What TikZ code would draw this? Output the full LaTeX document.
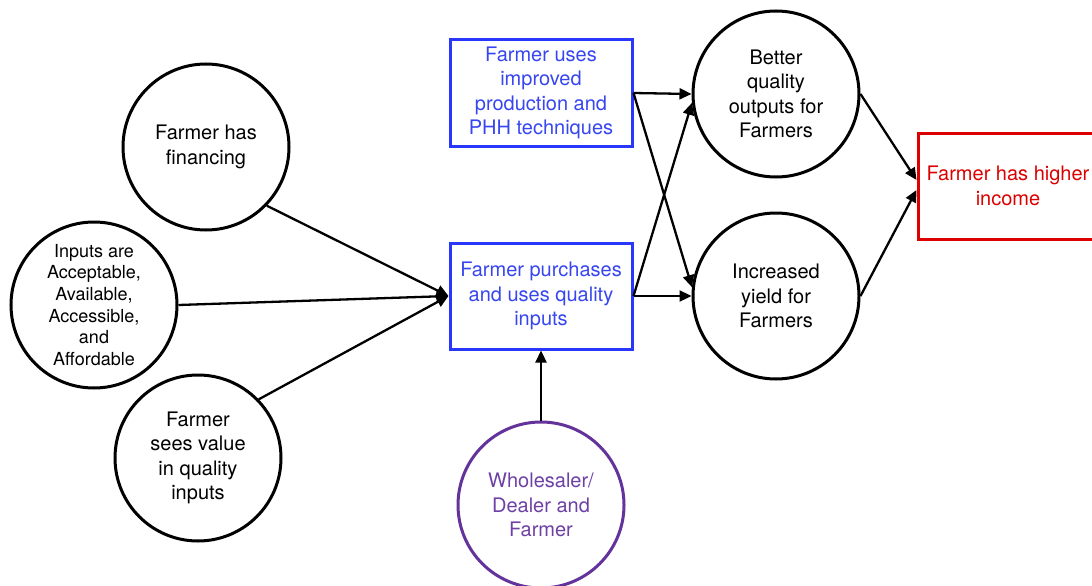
\documentclass[tikz,border=0pt]{standalone}
\usepackage{fontspec}
\setmainfont{TeX Gyre Heros}
\usetikzlibrary{arrows.meta}
\definecolor{boxblue}{RGB}{40,55,250}
\definecolor{txtblue}{RGB}{55,70,240}
\definecolor{incred}{RGB}{220,0,0}
\definecolor{dealer}{RGB}{100,50,155}
\definecolor{dealertxt}{RGB}{110,65,165}
\begin{document}
\begin{tikzpicture}[x=1pt,y=-1pt,
  every node/.style={font=\fontsize{20}{24.5}\selectfont, align=center, inner sep=0pt},
  bubble/.style={circle, draw=black, line width=3pt, minimum size=166pt},
  smallbubble/.style={bubble, font=\fontsize{18}{21.7}\selectfont},
  dealerbubble/.style={bubble, draw=dealer, text=dealertxt},
  actionbox/.style={rectangle, draw=boxblue, text=txtblue, line width=3pt, minimum width=182pt, minimum height=106pt},
  outcomebox/.style={rectangle, draw=incred, text=incred, line width=3pt, minimum width=180pt, minimum height=106pt},
  link/.style={line width=2.3pt, -{Triangle[length=12pt,width=11pt]}}]
\useasboundingbox (0,0) rectangle (1092,586);
\fill[white] (0,0) rectangle (1092,586);

% conditions on the left
\node[bubble] (fin) at (206,147) {Farmer has\\financing};
\node[smallbubble] (inp) at (94,305) {Inputs are\\Acceptable,\\Available,\\Accessible,\\and\\Affordable};
\node[bubble] (val) at (198,458) {Farmer\\sees value\\in quality\\inputs};

% farmer actions
\node[actionbox] (tech) at (541,93) {Farmer uses\\improved\\production and\\PHH techniques};
\node[actionbox] (buy) at (541,296) {Farmer purchases\\and uses quality\\inputs};

% market actor
\node[dealerbubble] (whol) at (541,505) {Wholesaler/\\Dealer and\\Farmer};

% outcomes
\node[bubble] (qual) at (776,94) {Better\\quality\\outputs for\\Farmers};
\node[bubble] (yld) at (776,296) {Increased\\yield for\\Farmers};
\node[outcomebox] (inc) at (1008,186) {Farmer has higher\\income};

% connectors
\draw[link] (fin.-44) -- (buy.west);
\draw[link] (inp.east) -- (buy.west);
\draw[link] (val.44) -- (buy.west);
\draw[link] (whol.north) -- (buy.south);
\draw[link] (tech.east) -- (qual.west);
\draw[link] (tech.east) -- (yld.174);
\draw[link] (buy.east) -- (yld.west);
\draw[link] (buy.east) -- (qual.186);
\draw[link] (qual.east) -- ([yshift=6pt]inc.west);
\draw[link] (yld.east) -- ([yshift=-4pt]inc.west);
\end{tikzpicture}
\end{document}
